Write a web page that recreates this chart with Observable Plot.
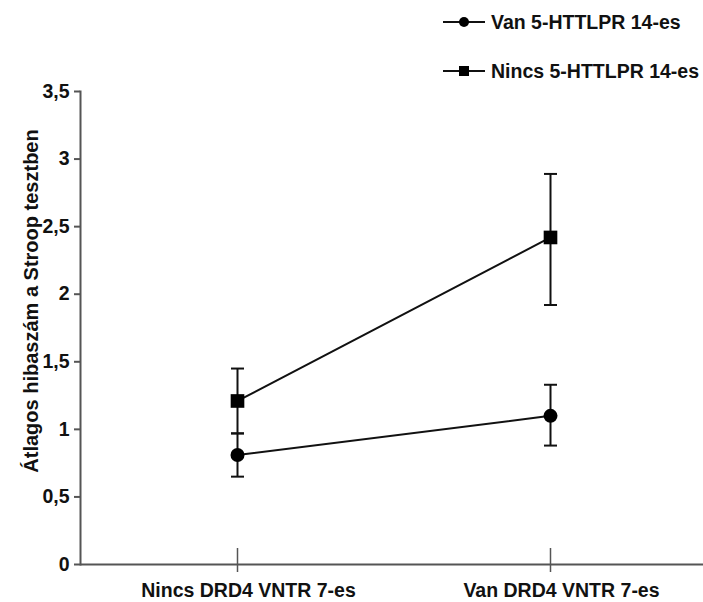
<!DOCTYPE html>
<html>
<head>
<meta charset="utf-8">
<script src="https://cdn.jsdelivr.net/npm/d3@7"></script>
<script src="https://cdn.jsdelivr.net/npm/@observablehq/plot@0.6"></script>
<style>
  body { margin: 0; background: #fff; }
  #wrap { position: relative; width: 703px; height: 602px; font-family: "Liberation Sans", Arial, sans-serif; }
  .leg { position: absolute; left: 443px; display: flex; align-items: center; font-weight: bold; font-size: 19.5px; color: #111; }
  .leg svg { margin-right: 4px; }
</style>
</head>
<body>
<div id="wrap"></div>
<script>
const categories = ["Nincs DRD4 VNTR 7-es", "Van DRD4 VNTR 7-es"];
const groups = ["Van 5-HTTLPR 14-es", "Nincs 5-HTTLPR 14-es"];
const vanMean = [0.81, 1.10];
const vanLo = [0.65, 0.88];
const vanHi = [0.97, 1.33];
const ninMean = [1.21, 2.42];
const ninLo = [0.97, 1.92];
const ninHi = [1.45, 2.89];
const yTicks = [0, 0.5, 1, 1.5, 2, 2.5, 3, 3.5];

const data = [];
categories.forEach((c, i) => {
  data.push({cat: c, group: groups[0], mean: vanMean[i], lo: vanLo[i], hi: vanHi[i]});
  data.push({cat: c, group: groups[1], mean: ninMean[i], lo: ninLo[i], hi: ninHi[i]});
});
const fmt = d => String(d).replace(".", ",");
const font = "Liberation Sans, Arial, sans-serif";
const capSymbol = {draw(ctx) { ctx.moveTo(-6.5, 0); ctx.lineTo(6.5, 0); }};

const chart = Plot.plot({
  width: 703,
  height: 602,
  marginLeft: 80,
  marginRight: -3,
  marginTop: 91,
  marginBottom: 38,
  style: {fontFamily: font, background: "#fff", overflow: "hidden"},
  x: {type: "point", domain: categories, padding: 0.5},
  y: {domain: [0, 3.5]},
  marks: [
    Plot.frame({anchor: "left", stroke: "#555", strokeWidth: 2}),
    Plot.ruleY([0], {stroke: "#555", strokeWidth: 2}),
    Plot.axisY({ticks: yTicks, tickFormat: fmt, tickSize: 6, tickPadding: 5, stroke: "#555", strokeWidth: 2, fontSize: 19.5, fontWeight: "bold", fill: "#111", label: null}),
    Plot.axisX({tickSize: 0, tickPadding: 19, dx: 11, fontSize: 19.5, fontWeight: "bold", fill: "#111", label: null}),
    Plot.ruleX(categories, {x: d => d, y1: 0, y2: 0, insetTop: -16, insetBottom: -8, stroke: "#555", strokeWidth: 1.5}),
    Plot.text(["Átlagos hibaszám a Stroop tesztben"], {frameAnchor: "left", textAnchor: "middle", rotate: -90, dx: -49, dy: -27, fontSize: 20, fontWeight: "bold", fill: "#111"}),
    Plot.line(data, {x: "cat", y: "mean", z: "group", stroke: "#111", strokeWidth: 2}),
    Plot.ruleX(data, {x: "cat", y1: "lo", y2: "hi", stroke: "#111", strokeWidth: 2}),
    Plot.dot(data, {x: "cat", y: "lo", symbol: capSymbol, stroke: "#111", strokeWidth: 2, fill: "none"}),
    Plot.dot(data, {x: "cat", y: "hi", symbol: capSymbol, stroke: "#111", strokeWidth: 2, fill: "none"}),
    Plot.dot(data.filter(d => d.group === groups[0]), {x: "cat", y: "mean", r: 7, fill: "#000", symbol: "circle"}),
    Plot.dot(data.filter(d => d.group === groups[1]), {x: "cat", y: "mean", r: 7.7, fill: "#000", symbol: "square"})
  ]
});
const wrap = document.getElementById("wrap");
wrap.appendChild(chart);

const legendTops = [8, 57];
groups.forEach((g, i) => {
  const div = document.createElement("div");
  div.className = "leg";
  div.style.top = legendTops[i] + "px";
  const sym = i === 0
    ? '<circle cx="21" cy="14" r="5" fill="#000"/>'
    : '<rect x="16" y="9" width="10" height="10" fill="#000"/>';
  div.innerHTML = `<svg width="44" height="28"><line x1="0" x2="42" y1="14" y2="14" stroke="#111" stroke-width="2"/>${sym}</svg><span>${g}</span>`;
  wrap.appendChild(div);
});
</script>
</body>
</html>
